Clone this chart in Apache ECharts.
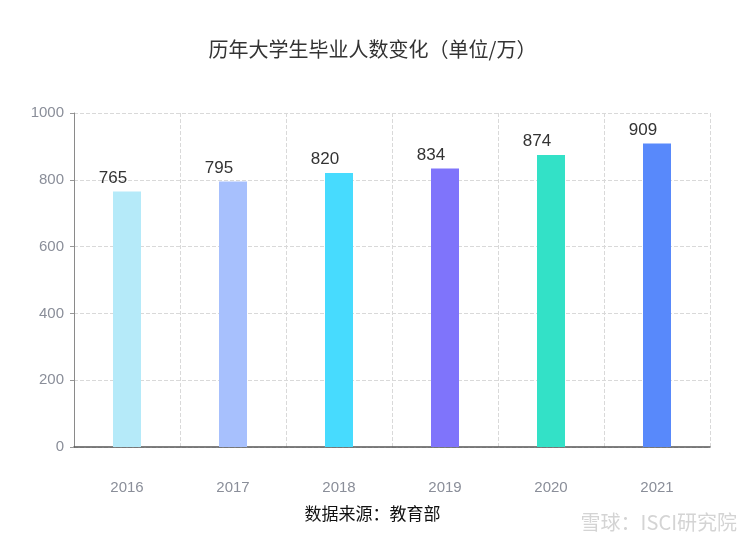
<!DOCTYPE html>
<html>
<head>
<meta charset="utf-8">
<script src="https://cdn.jsdelivr.net/npm/echarts@6/dist/echarts.min.js"></script>
<style>html,body{margin:0;padding:0;background:#fff}#c{width:745px;height:552px}</style>
</head>
<body>
<div id="c"></div>
<script>
var years = ['2016', '2017', '2018', '2019', '2020', '2021'];
var graduates = [765, 795, 820, 834, 874, 909];
var barColors = ['#b5eaf9', '#a7c0fd', '#47dbfe', '#7f74fb', '#33e1c7', '#5889fb'];
var yTicks = [0, 200, 400, 600, 800, 1000];

var chart = echarts.init(document.getElementById('c'));
chart.setOption({
  backgroundColor: '#fff',
  animation: false,
  title: {
    text: '历年大学生毕业人数变化（单位/万）',
    left: 'center', top: 34,
    textStyle: { fontSize: 20, fontWeight: 'normal', color: '#333', fontFamily: 'Noto Sans CJK SC' }
  },
  grid: { left: 74, right: 35, top: 113, bottom: 105 },
  xAxis: {
    type: 'category',
    data: years,
    axisLine: { lineStyle: { color: '#555', width: 1.5 } },
    axisTick: { alignWithLabel: true, length: 5, lineStyle: { color: '#888' } },
    axisLabel: { margin: 33, fontSize: 15, color: '#8a8e99', fontFamily: 'Liberation Sans' },
    splitLine: { show: true, lineStyle: { type: 'dashed', color: '#d9d9d9' } }
  },
  yAxis: {
    type: 'value', min: yTicks[0], max: yTicks[yTicks.length - 1], interval: yTicks[1] - yTicks[0],
    axisLine: { show: true, lineStyle: { color: '#8a8a8a' } },
    axisTick: { show: true, length: 4, lineStyle: { color: '#999' } },
    axisLabel: { fontSize: 15, color: '#8a8e99', margin: 10, fontFamily: 'Liberation Sans', formatter: function (v) { return String(v); } },
    splitLine: { show: true, lineStyle: { type: 'dashed', color: '#d9d9d9' } }
  },
  series: [{
    type: 'bar',
    barWidth: 28,
    data: graduates.map(function (v, i) { return { value: v, itemStyle: { color: barColors[i] } }; }),
    label: { show: true, position: 'top', distance: 5, offset: [-14, 0], fontSize: 17, color: '#333', fontFamily: 'Liberation Sans' }
  }],
  graphic: [
    { type: 'text', left: 'center', top: 505, style: { text: '数据来源：教育部', fill: '#111', font: '17px "Noto Sans CJK SC"' } },
    { type: 'text', right: 8, top: 512, style: { text: '雪球：ISCI研究院', fill: '#d4d4d4', font: '20px "Noto Sans CJK SC"' } }
  ]
});
</script>
</body>
</html>
